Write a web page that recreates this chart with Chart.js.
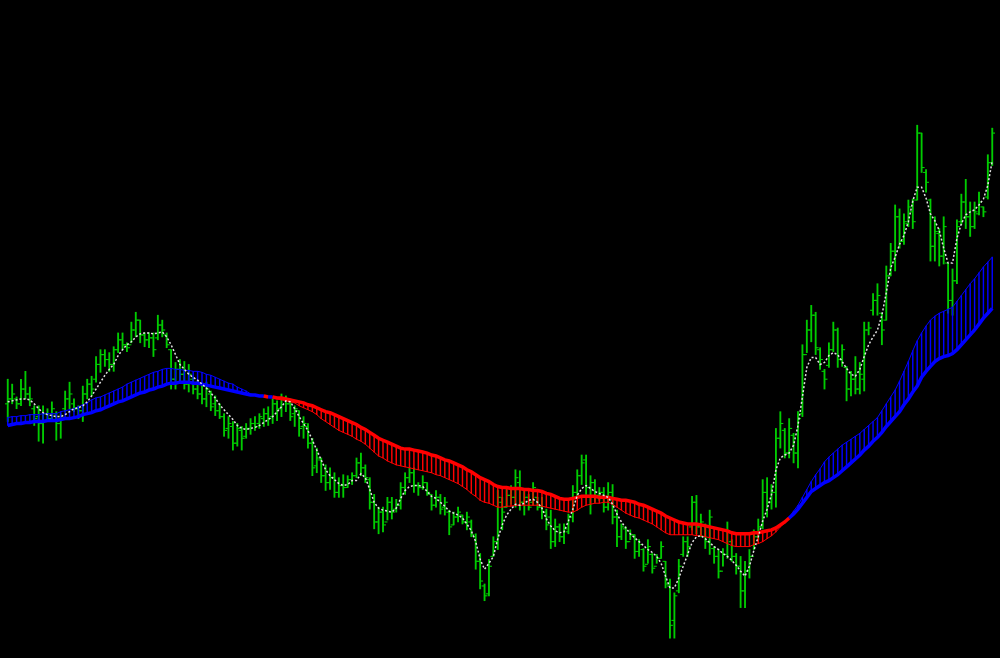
<!DOCTYPE html>
<html>
<head>
<meta charset="utf-8">
<script src="https://cdn.jsdelivr.net/npm/chart.js@4/dist/chart.umd.min.js"></script>
<style>
  html, body { margin: 0; padding: 0; background: #000; }
  #wrap { width: 1000px; height: 658px; }
</style>
</head>
<body>
<div id="wrap"><canvas id="chart" width="1000" height="658"></canvas></div>
<script>
// price series, one value per bar (224 bars)
const high = [
  1620,1615,1602,1620,1628,1612,1593,1593,1593,1590,
  1597,1587,1585,1608,1617,1600,1593,1613,1620,1623,
  1643,1650,1650,1647,1653,1667,1667,1657,1678,1688,
  1680,1667,1667,1667,1685,1680,1667,1650,1637,1640,
  1638,1635,1622,1618,1615,1617,1608,1603,1595,1585,
  1582,1577,1575,1572,1575,1580,1582,1585,1590,1592,
  1600,1598,1605,1603,1600,1593,1588,1582,1575,1560,
  1550,1540,1533,1530,1525,1520,1523,1522,1525,1540,
  1545,1533,1520,1503,1490,1490,1500,1500,1498,1515,
  1525,1530,1530,1515,1522,1515,1503,1507,1503,1500,
  1487,1485,1490,1482,1485,1477,1463,1443,1412,1437,
  1460,1507,1500,1508,1512,1528,1527,1507,1503,1515,
  1500,1500,1488,1487,1478,1473,1473,1483,1512,1528,
  1543,1543,1522,1518,1510,1510,1515,1513,1487,1473,
  1470,1467,1462,1457,1448,1457,1443,1442,1455,1435,
  1417,1403,1437,1460,1460,1501,1502,1483,1473,1487,
  1450,1447,1448,1475,1457,1443,1440,1435,1447,1467,
  1478,1518,1520,1513,1570,1587,1570,1580,1565,1587,
  1655,1680,1695,1688,1652,1630,1657,1678,1672,1655,
  1633,1628,1643,1637,1678,1678,1707,1717,1687,1735,
  1758,1797,1793,1788,1802,1803,1878,1870,1833,1803,
  1785,1773,1785,1738,1732,1782,1808,1823,1800,1800,
  1810,1795,1848,1875
]
const low = [
  1577,1595,1590,1593,1600,1593,1573,1557,1555,1577,
  1577,1558,1560,1587,1590,1587,1580,1577,1600,1603,
  1617,1627,1633,1628,1628,1647,1650,1648,1657,1663,
  1657,1653,1652,1643,1660,1663,1652,1610,1610,1617,
  1610,1607,1605,1600,1595,1592,1588,1583,1580,1562,
  1560,1548,1552,1548,1560,1564,1568,1570,1572,1573,
  1575,1578,1582,1587,1578,1572,1562,1560,1550,1522,
  1525,1515,1507,1508,1500,1500,1500,1510,1513,1520,
  1522,1515,1488,1468,1463,1465,1477,1478,1485,1488,
  1503,1515,1505,1502,1508,1502,1487,1490,1483,1482,
  1462,1472,1475,1473,1467,1460,1427,1407,1395,1400,
  1440,1447,1467,1490,1493,1490,1487,1482,1487,1492,
  1487,1478,1467,1448,1450,1455,1453,1463,1475,1500,
  1513,1503,1483,1495,1497,1485,1487,1473,1450,1457,
  1448,1457,1438,1440,1425,1433,1423,1433,1438,1408,
  1357,1357,1403,1440,1440,1467,1463,1460,1448,1442,
  1433,1418,1430,1438,1435,1422,1388,1388,1418,1447,
  1457,1468,1480,1488,1490,1550,1540,1540,1535,1530,
  1582,1647,1658,1645,1630,1610,1632,1648,1632,1633,
  1598,1603,1605,1605,1608,1665,1685,1685,1655,1680,
  1725,1730,1753,1757,1775,1773,1802,1830,1810,1740,
  1740,1735,1737,1687,1685,1717,1777,1773,1765,1773,
  1787,1785,1803,1837
]
const open = [
  1595,1600,1600,1595,1610,1605,1590,1582,1575,1585,
  1580,1585,1575,1590,1600,1595,1590,1588,1605,1615,
  1620,1635,1645,1640,1635,1650,1660,1655,1655,1670,
  1680,1665,1660,1662,1662,1675,1665,1650,1620,1630,
  1625,1615,1620,1610,1605,1600,1605,1595,1588,1582,
  1570,1572,1555,1568,1562,1570,1575,1575,1580,1585,
  1582,1595,1590,1600,1595,1585,1588,1572,1572,1555,
  1532,1538,1522,1515,1520,1505,1512,1510,1518,1522,
  1535,1530,1518,1495,1475,1485,1475,1495,1488,1492,
  1510,1520,1525,1512,1510,1515,1503,1492,1500,1490,
  1485,1472,1480,1482,1475,1475,1460,1435,1410,1402,
  1440,1455,1495,1490,1502,1500,1515,1495,1500,1495,
  1500,1490,1485,1480,1455,1470,1460,1465,1480,1505,
  1522,1538,1510,1515,1502,1505,1490,1505,1480,1460,
  1468,1455,1462,1445,1447,1432,1442,1430,1438,1435,
  1410,1375,1405,1442,1455,1470,1495,1470,1472,1455,
  1448,1440,1425,1442,1455,1440,1430,1405,1425,1440,
  1460,1470,1505,1495,1505,1560,1568,1545,1563,1545,
  1585,1645,1670,1685,1650,1628,1634,1650,1670,1640,
  1632,1610,1620,1610,1620,1670,1690,1700,1687,1680,
  1725,1750,1785,1760,1778,1790,1802,1870,1830,1802,
  1755,1768,1745,1738,1700,1720,1780,1800,1785,1775,
  1788,1795,1805,1840
]
const close = [
  1600,1605,1595,1610,1605,1600,1580,1575,1585,1580,
  1590,1575,1580,1600,1605,1590,1588,1605,1615,1610,
  1635,1645,1640,1635,1650,1660,1655,1652,1670,1680,
  1665,1660,1662,1650,1675,1670,1655,1620,1630,1625,
  1615,1625,1610,1605,1600,1610,1592,1588,1582,1568,
  1575,1555,1570,1560,1570,1575,1572,1582,1585,1580,
  1595,1590,1600,1595,1582,1590,1570,1575,1555,1530,
  1540,1522,1515,1520,1505,1512,1510,1518,1522,1535,
  1530,1520,1495,1475,1485,1472,1495,1485,1492,1510,
  1520,1525,1512,1510,1515,1505,1492,1500,1488,1495,
  1470,1480,1485,1475,1480,1462,1435,1415,1400,1430,
  1455,1500,1485,1502,1500,1520,1495,1500,1490,1510,
  1490,1485,1472,1455,1470,1460,1468,1480,1505,1522,
  1535,1510,1515,1502,1505,1490,1505,1480,1460,1470,
  1455,1462,1445,1452,1430,1450,1428,1438,1450,1412,
  1370,1400,1430,1455,1450,1495,1470,1475,1455,1480,
  1440,1425,1442,1465,1440,1430,1405,1425,1440,1460,
  1470,1505,1495,1505,1560,1575,1545,1570,1545,1580,
  1645,1670,1685,1652,1640,1620,1650,1670,1640,1650,
  1610,1620,1610,1625,1670,1672,1700,1705,1670,1725,
  1750,1785,1760,1780,1795,1780,1870,1835,1820,1755,
  1770,1745,1775,1700,1720,1775,1800,1785,1775,1790,
  1800,1790,1840,1870
]
// dotted fast average
const fastMA = [
  1597,1598,1599,1600,1600,1599,1595,1590,1586,1584,
  1583,1582,1582,1584,1587,1590,1591,1593,1597,1603,
  1610,1617,1624,1630,1635,1644,1650,1655,1658,1663,
  1666,1667,1667,1666,1667,1668,1663,1655,1645,1635,
  1630,1625,1622,1619,1615,1611,1606,1601,1594,1589,
  1584,1579,1573,1570,1569,1570,1571,1573,1576,1579,
  1582,1587,1592,1598,1597,1590,1582,1575,1568,1558,
  1548,1538,1528,1522,1518,1514,1512,1513,1517,1517,
  1524,1520,1508,1495,1489,1487,1486,1485,1489,1499,
  1507,1511,1512,1512,1511,1506,1501,1499,1495,1491,
  1486,1484,1482,1479,1473,1466,1455,1437,1427,1433,
  1440,1458,1472,1482,1488,1493,1492,1494,1497,1498,
  1495,1489,1478,1471,1466,1464,1465,1476,1488,1502,
  1509,1512,1509,1506,1504,1502,1500,1493,1483,1475,
  1469,1463,1459,1455,1451,1447,1444,1440,1433,1420,
  1408,1408,1418,1430,1442,1454,1460,1461,1458,1454,
  1450,1447,1443,1440,1436,1431,1425,1420,1430,1446,
  1460,1476,1488,1503,1528,1540,1543,1545,1553,1573,
  1602,1632,1642,1642,1635,1637,1644,1647,1645,1638,
  1631,1625,1623,1630,1643,1655,1663,1670,1685,1708,
  1733,1744,1757,1766,1780,1801,1815,1815,1804,1788,
  1781,1771,1753,1738,1738,1763,1778,1787,1790,1792,
  1797,1803,1817,1842
]
// thick line of the band
const trendLine = [
  1573,1574,1575,1575,1576,1576,1577,1577,1577,1578,
  1578,1578,1579,1580,1580,1581,1582,1584,1585,1586,
  1588,1589,1591,1593,1595,1597,1598,1600,1602,1604,
  1606,1607,1609,1610,1612,1613,1615,1616,1616,1617,
  1617,1617,1616,1616,1615,1614,1613,1612,1611,1610,
  1609,1608,1607,1606,1605,1604,1604,1603,1603,1602,
  1602,1601,1601,1600,1599,1598,1597,1596,1594,1593,
  1591,1589,1587,1586,1584,1582,1580,1578,1576,1574,
  1571,1569,1566,1563,1560,1558,1556,1554,1552,1550,
  1549,1549,1548,1547,1546,1545,1543,1542,1540,1538,
  1537,1535,1533,1531,1528,1526,1523,1520,1518,1516,
  1513,1511,1510,1510,1509,1509,1509,1508,1508,1507,
  1507,1506,1504,1503,1501,1499,1498,1498,1499,1500,
  1501,1501,1501,1501,1500,1500,1500,1499,1498,1497,
  1497,1496,1495,1493,1492,1490,1488,1486,1484,1481,
  1479,1477,1475,1474,1473,1473,1473,1472,1471,1470,
  1469,1468,1467,1466,1464,1463,1463,1463,1463,1464,
  1464,1465,1466,1467,1469,1472,1475,1479,1483,1488,
  1494,1500,1506,1509,1512,1515,1517,1520,1523,1527,
  1531,1535,1539,1543,1548,1552,1557,1561,1566,1572,
  1577,1582,1587,1594,1600,1607,1613,1622,1628,1633,
  1638,1641,1643,1644,1646,1650,1655,1660,1665,1670,
  1676,1682,1687,1692
]
// thin line of the band
const signalLine = [
  1581,1582,1582,1583,1583,1584,1584,1584,1585,1585,
  1585,1585,1587,1588,1589,1590,1592,1594,1596,1599,
  1601,1602,1604,1606,1608,1610,1612,1615,1617,1619,
  1621,1623,1625,1627,1628,1630,1631,1631,1630,1630,
  1629,1629,1628,1628,1627,1625,1624,1622,1620,1618,
  1616,1615,1612,1610,1608,1605,1604,1603,1602,1602,
  1601,1600,1599,1598,1597,1596,1593,1591,1589,1587,
  1584,1580,1577,1574,1571,1568,1566,1564,1562,1559,
  1557,1554,1550,1546,1542,1540,1537,1535,1533,1532,
  1531,1530,1529,1528,1527,1526,1525,1523,1522,1520,
  1518,1516,1514,1511,1508,1504,1501,1497,1495,1494,
  1492,1490,1490,1491,1491,1492,1492,1492,1492,1492,
  1492,1491,1490,1489,1488,1487,1486,1485,1485,1487,
  1490,1492,1493,1494,1494,1495,1495,1493,1490,1487,
  1484,1482,1480,1479,1477,1475,1473,1470,1467,1464,
  1462,1462,1462,1462,1462,1462,1461,1461,1460,1459,
  1458,1457,1455,1453,1451,1450,1450,1450,1450,1452,
  1453,1455,1458,1461,1465,1470,1474,1480,1486,1492,
  1500,1508,1516,1523,1529,1536,1541,1545,1549,1553,
  1556,1559,1562,1565,1569,1573,1577,1581,1588,1595,
  1602,1609,1618,1628,1638,1649,1659,1667,1674,1680,
  1684,1687,1689,1691,1693,1699,1705,1711,1717,1722,
  1728,1734,1739,1744
]

const BAR_GREEN = "#00cc00"
const UP_BLUE = "#0000ff"
const DOWN_RED = "#ff0000"

const bandColor = (i) => signalLine[i] >= trendLine[i] ? UP_BLUE : DOWN_RED

const barRange = high.map((h, i) => ({ x: i, y: [low[i], h] }))
const openTicks = open.map((v, i) => ({ x: i - 0.33, y: v }))
const closeTicks = close.map((v, i) => ({ x: i + 0.33, y: v }))
const hatch = trendLine.map((v, i) => ({ x: i, y: [v, signalLine[i]] }))
const toPoints = (arr) => arr.map((v, i) => ({ x: i, y: v }))

const segColor = (ctx) => bandColor(ctx.p0DataIndex)

new Chart(document.getElementById("chart"), {
  type: "bar",
  data: {
    datasets: [
      {
        type: "line",
        data: toPoints(fastMA),
        borderColor: "#e0e0e0",
        borderWidth: 1.5,
        borderDash: [2, 2],
        pointRadius: 0,
        order: 0,
      },
      {
        type: "line",
        data: toPoints(trendLine),
        borderColor: UP_BLUE,
        borderWidth: 3.5,
        pointRadius: 0,
        segment: { borderColor: segColor },
        order: 1,
      },
      {
        type: "line",
        data: toPoints(signalLine),
        borderColor: UP_BLUE,
        borderWidth: 1,
        pointRadius: 0,
        segment: { borderColor: segColor },
        order: 2,
      },
      {
        type: "bar",
        data: hatch,
        backgroundColor: hatch.map((p, i) => bandColor(i)),
        barThickness: 0.8,
        grouped: false,
        order: 3,
      },
      {
        type: "scatter",
        data: openTicks,
        pointStyle: "line",
        pointRadius: 1.5,
        pointBorderColor: BAR_GREEN,
        pointBorderWidth: 1.1,
        order: 4,
      },
      {
        type: "scatter",
        data: closeTicks,
        pointStyle: "line",
        pointRadius: 1.5,
        pointBorderColor: BAR_GREEN,
        pointBorderWidth: 1.1,
        order: 4,
      },
      {
        type: "bar",
        data: barRange,
        backgroundColor: BAR_GREEN,
        barThickness: 1.2,
        grouped: false,
        order: 5,
      },
    ],
  },
  options: {
    responsive: false,
    animation: false,
    layout: { padding: 0 },
    plugins: { legend: { display: false }, tooltip: { enabled: false } },
    scales: {
      x: { type: "linear", display: false, offset: false, min: -0.6, max: 223.6 },
      y: { display: false, min: 1342, max: 2000 },
    },
  },
})
</script>
</body>
</html>
